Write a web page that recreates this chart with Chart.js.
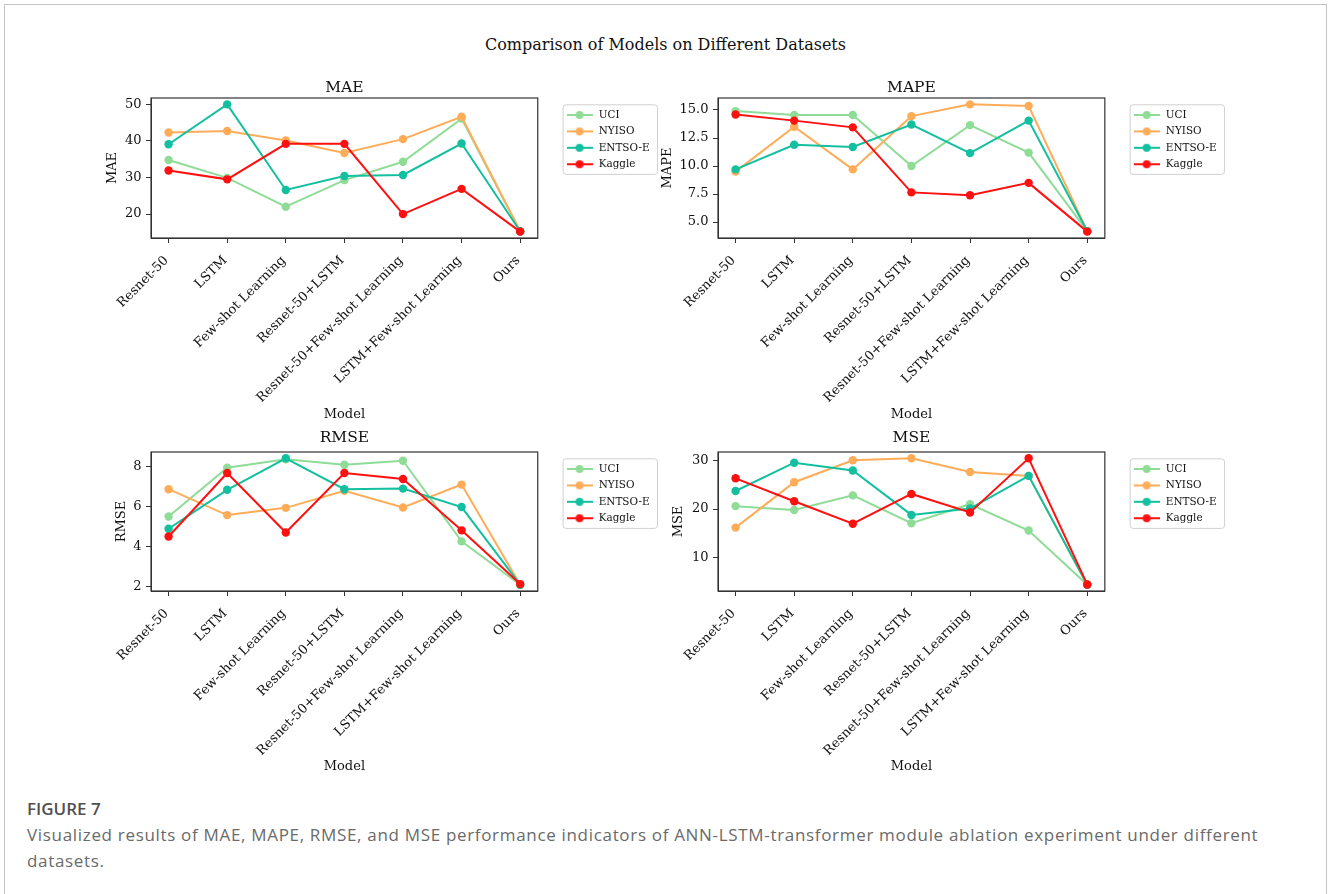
<!DOCTYPE html>
<html>
<head>
<meta charset="utf-8">
<script src="https://cdn.jsdelivr.net/npm/chart.js@4.4.1/dist/chart.umd.min.js"></script>
<style>
body { margin: 0; background: #fff; width: 1328px; height: 894px; overflow: hidden; position: relative; }
#frame { position: absolute; left: 4px; top: 4px; width: 1323px; height: 1000px; border: 1px solid #c4c4c4; box-sizing: border-box; }
canvas { position: absolute; }
#suptitle { position: absolute; left: 0; width: 1331px; top: 35px; line-height: 20px; text-align: center; font-family: 'DejaVu Serif'; font-size: 16px; color: #111; }
#caption { position: absolute; left: 27px; top: 796px; font-family: 'Open Sans'; font-size: 17px; line-height: 26px; color: #6a6a6a; letter-spacing: 0.68px; }
#caption .fig { color: #505050; font-weight: 600; letter-spacing: 0; }
</style>
</head>
<body>
<div id="frame"></div>
<div id="suptitle">Comparison of Models on Different Datasets</div>
<canvas id="mae" width="590" height="370" style="left:90px; top:60px"></canvas>
<canvas id="mape" width="617" height="370" style="left:640px; top:60px"></canvas>
<canvas id="rmse" width="590" height="370" style="left:90px; top:414px"></canvas>
<canvas id="mse" width="617" height="370" style="left:640px; top:414px"></canvas>
<div id="caption">
  <div class="fig">FIGURE 7</div>
  <div>Visualized results of MAE, MAPE, RMSE, and MSE performance indicators of ANN-LSTM-transformer module ablation experiment under different<br>datasets.</div>
</div>
<script>
// Categories and series names
const models = ['Resnet-50', 'LSTM', 'Few-shot Learning', 'Resnet-50+LSTM', 'Resnet-50+Few-shot Learning', 'LSTM+Few-shot Learning', 'Ours'];
const seriesNames = ['UCI', 'NYISO', 'ENTSO-E', 'Kaggle'];
const seriesColors = ['#8fdc97', '#ffac59', '#12bf9f', '#ff1010'];

// MAE
const maeUCI = [34.8, 29.9, 22.0, 29.3, 34.3, 46.1, 15.3];
const maeNYISO = [42.3, 42.7, 40.1, 36.7, 40.5, 46.6, 15.3];
const maeENTSOE = [39.1, 50.0, 26.6, 30.4, 30.7, 39.3, 15.3];
const maeKaggle = [31.9, 29.5, 39.2, 39.2, 20.0, 26.9, 15.2];
const maeTicks = [20, 30, 40, 50];

// MAPE
const mapeUCI = [14.9, 14.55, 14.55, 10.0, 13.65, 11.2, 4.2];
const mapeNYISO = [9.5, 13.5, 9.7, 14.45, 15.5, 15.35, 4.2];
const mapeENTSOE = [9.7, 11.9, 11.7, 13.7, 11.15, 14.05, 4.2];
const mapeKaggle = [14.6, 14.05, 13.45, 7.65, 7.4, 8.5, 4.15];
const mapeTicks = [5, 7.5, 10, 12.5, 15];

// RMSE
const rmseUCI = [5.5, 7.93, 8.35, 8.08, 8.28, 4.26, 2.1];
const rmseNYISO = [6.86, 5.57, 5.93, 6.78, 5.95, 7.09, 2.1];
const rmseENTSOE = [4.89, 6.83, 8.4, 6.86, 6.89, 5.97, 2.1];
const rmseKaggle = [4.5, 7.67, 4.7, 7.67, 7.37, 4.81, 2.13];
const rmseTicks = [2, 4, 6, 8];

// MSE
const mseUCI = [20.6, 19.8, 22.8, 17.1, 21.0, 15.6, 4.5];
const mseNYISO = [16.2, 25.5, 30.0, 30.4, 27.6, 26.8, 4.5];
const mseENTSOE = [23.7, 29.5, 27.9, 18.8, 20.1, 26.8, 4.5];
const mseKaggle = [26.3, 21.6, 17.0, 23.1, 19.3, 30.4, 4.55];
const mseTicks = [10, 20, 30];

const serif = 'DejaVu Serif';

// legend symbol: short line with a dot, like matplotlib
function legendIcon(color) {
    let c = document.createElement('canvas');
    c.width = 26;
    c.height = 10;
    let g = c.getContext('2d');
    g.strokeStyle = color;
    g.lineWidth = 2;
    g.beginPath();
    g.moveTo(0, 5);
    g.lineTo(26, 5);
    g.stroke();
    g.fillStyle = color;
    g.beginPath();
    g.arc(13, 5, 4, 0, Math.PI * 2);
    g.fill();
    return c;
}
const icons = seriesColors.map(legendIcon);

// frame around legend and box around the axes
const boxPlugin = {
    id: 'axesBox',
    beforeDraw(chart) {
        let hb = chart.legend && chart.legend.legendHitBoxes;
        if (!hb || !hb.length) return;
        let l = hb[0].left - 2.5;
        let t = hb[0].top - 5;
        let r = Math.max(...hb.map(h => h.left + h.width)) + 8;
        let last = hb[hb.length - 1];
        let b = last.top + last.height + 5;
        let ctx = chart.ctx;
        ctx.save();
        ctx.beginPath();
        ctx.roundRect(l, t, r - l, b - t, 3);
        ctx.fillStyle = 'rgba(255,255,255,0.8)';
        ctx.fill();
        ctx.strokeStyle = '#d0d0d0';
        ctx.lineWidth = 1;
        ctx.stroke();
        ctx.restore();
    },
    afterDraw(chart) {
        let a = chart.chartArea;
        let ctx = chart.ctx;
        ctx.save();
        ctx.strokeStyle = '#333';
        ctx.lineWidth = 1.2;
        ctx.strokeRect(a.left, a.top, a.right - a.left, a.bottom - a.top);
        ctx.restore();
    }
};

function padRange(arrs) {
    let all = [].concat(...arrs);
    let lo = Math.min(...all);
    let hi = Math.max(...all);
    let m = (hi - lo) * 0.05;
    return [lo - m, hi + m];
}

function makeChart(id, title, series, yTicks, fmt, geo) {
    let [ymin, ymax] = padRange(series);
    let datasets = series.map((vals, k) => ({
        label: seriesNames[k],
        data: vals.map((v, i) => ({x: i, y: v})),
        borderColor: seriesColors[k],
        backgroundColor: seriesColors[k],
        borderWidth: 2,
        pointRadius: 4.2,
        pointHoverRadius: 4.2,
        pointBorderWidth: 0,
        order: 4 - k,
        clip: false
    }));

    let chart = new Chart(document.getElementById(id), {
        type: 'line',
        data: {datasets: datasets},
        plugins: [boxPlugin],
        options: {
            responsive: false,
            animation: false,
            events: [],
            layout: {padding: {right: 40}},
            plugins: {
                title: {
                    display: true,
                    text: title,
                    fullSize: false,
                    color: '#111',
                    font: {family: serif, size: 15.5, weight: 'normal'},
                    padding: {top: geo.tt, bottom: geo.tb}
                },
                legend: {
                    position: 'right',
                    align: 'start',
                    fullSize: false,
                    title: {display: true, text: '', font: {size: 1}, padding: {top: 0, bottom: 4.6}},
                    labels: {
                        usePointStyle: true,
                        pointStyleWidth: 28,
                        padding: 6,
                        color: '#111',
                        font: {family: serif, size: 10.4},
                        sort: (a, b) => a.datasetIndex - b.datasetIndex,
                        generateLabels: chart => Chart.defaults.plugins.legend.labels.generateLabels(chart)
                            .map(l => Object.assign(l, {pointStyle: icons[l.datasetIndex]}))
                    }
                },
                tooltip: {enabled: false}
            },
            scales: {
                x: {
                    type: 'linear',
                    min: -0.3,
                    max: 6.3,
                    afterBuildTicks: s => { s.ticks = models.map((m, i) => ({value: i})); },
                    afterFit: s => { s.height = geo.xh; },
                    ticks: {
                        autoSkip: false,
                        minRotation: 45,
                        maxRotation: 45,
                        padding: 10,
                        labelOffset: -2,
                        color: '#111',
                        font: {family: serif, size: 13},
                        callback: v => models[v]
                    },
                    grid: {drawOnChartArea: false, tickLength: 5, color: '#333'},
                    border: {color: '#333'},
                    title: {
                        display: true,
                        text: 'Model',
                        color: '#111',
                        font: {family: serif, size: 13},
                        padding: {top: 0, bottom: geo.xtb}
                    }
                },
                y: {
                    min: ymin,
                    max: ymax,
                    afterBuildTicks: s => { s.ticks = yTicks.map(v => ({value: v})); },
                    afterFit: s => { s.width = geo.yw; },
                    ticks: {
                        padding: 4.5,
                        color: '#111',
                        font: {family: serif, size: 13},
                        callback: fmt
                    },
                    grid: {drawOnChartArea: false, tickLength: 5, color: '#333'},
                    border: {color: '#333'},
                    title: {
                        display: true,
                        text: title,
                        color: '#111',
                        font: {family: serif, size: 13},
                        padding: {top: geo.ytp, bottom: 0}
                    }
                },
                // spacer between the axes and the legend
                y2: {
                    position: 'right',
                    grid: {display: false},
                    border: {display: false},
                    ticks: {display: false},
                    afterFit: s => { s.width = 21.8; }
                }
            }
        }
    });

    // pin the right edge of the plot area whatever the legend width is
    let shift = chart.chartArea.right - geo.right;
    if (Math.abs(shift) > 0.1) {
        chart.options.layout.padding.right += shift;
        chart.update();
    }
    return chart;
}

const intFmt = v => String(v);
const oneDec = v => v.toFixed(1);

makeChart('mae', 'MAE', [maeUCI, maeNYISO, maeENTSOE, maeKaggle], maeTicks, intFmt,
    {yw: 61, ytp: 14.7, tt: 18.4, tb: 1, xh: 192, xtb: 7.2, right: 450});
makeChart('mape', 'MAPE', [mapeUCI, mapeNYISO, mapeENTSOE, mapeKaggle], mapeTicks, oneDec,
    {yw: 78, ytp: 19.5, tt: 18.4, tb: 1, xh: 192, xtb: 7.2, right: 466});
makeChart('rmse', 'RMSE', [rmseUCI, rmseNYISO, rmseENTSOE, rmseKaggle], rmseTicks, intFmt,
    {yw: 61, ytp: 23.9, tt: 15, tb: 4.4, xh: 193, xtb: 9.2, right: 450});
makeChart('mse', 'MSE', [mseUCI, mseNYISO, mseENTSOE, mseKaggle], mseTicks, intFmt,
    {yw: 78, ytp: 31.2, tt: 15, tb: 4.4, xh: 193, xtb: 9.2, right: 466});
</script>
</body>
</html>
